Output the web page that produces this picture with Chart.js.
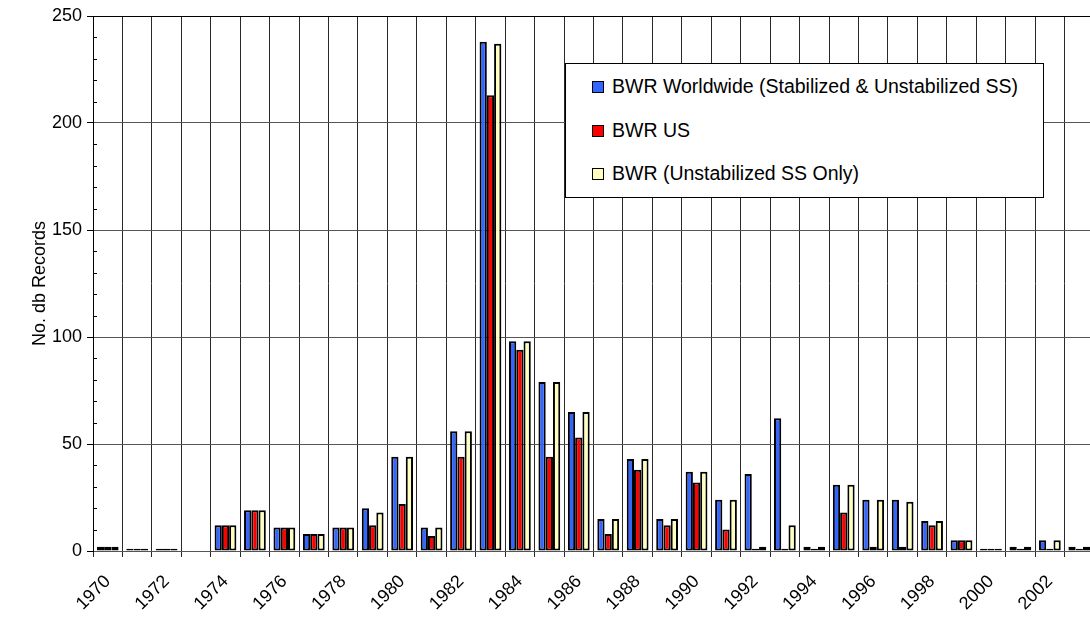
<!DOCTYPE html>
<html>
<head>
<meta charset="utf-8">
<script src="https://cdn.jsdelivr.net/npm/chart.js@4"></script>
<style>
  html, body { margin: 0; padding: 0; background: #fff; overflow: hidden; }
  #wrap { position: relative; width: 1094px; height: 618px; }
  #legend {
    position: absolute; left: 565px; top: 63px; width: 477px; height: 133px;
    border: 1px solid #000; background: #fff;
    font-family: "Liberation Sans", Arial, sans-serif; font-size: 19.5px; color: #000;
  }
  #legend .item { position: absolute; left: 26px; height: 22px; line-height: 22px; white-space: nowrap; }
  #legend .box { display: inline-block; width: 10px; height: 10px; border: 1px solid #000; vertical-align: 0px; margin-right: 8px; }
</style>
</head>
<body>
<div id="wrap">
  <canvas id="chart"></canvas>
  <div id="legend"></div>
</div>
<script>
const years = [];
for (let y = 1970; y <= 2003; y++) years.push(String(y));

const worldwide = [2, 1, 1, 0, 12, 19, 11, 8, 11, 20, 44, 11, 56, 238, 98, 79, 65, 15, 43, 15, 37, 24, 36, 62, 2, 31, 24, 24, 14, 5, 1, 2, 5, 2];
const usOnly    = [2, 1, 1, 0, 12, 19, 11, 8, 11, 12, 22, 7, 44, 213, 94, 44, 53, 8, 38, 12, 32, 10, 1, 1, 1, 18, 2, 2, 12, 5, 1, 1, 1, 1];
const unstab    = [2, 1, 1, 0, 12, 19, 11, 8, 11, 18, 44, 11, 56, 237, 98, 79, 65, 15, 43, 15, 37, 24, 2, 12, 2, 31, 24, 23, 14, 5, 1, 2, 5, 2];

const seriesNames = [
  'BWR Worldwide (Stabilized & Unstabilized SS)',
  'BWR US',
  'BWR (Unstabilized SS Only)'
];
const seriesColors = ['#3366ff', '#ff0000', '#ffffc0'];
const yTicks = [0, 50, 100, 150, 200, 250];

const FONT = '"Liberation Sans", Arial, sans-serif';

// legend box inside the plot, like the original
const legend = document.getElementById('legend');
seriesNames.forEach((name, i) => {
  const div = document.createElement('div');
  div.className = 'item';
  div.style.top = (11 + i * 43.5) + 'px';
  div.innerHTML = '<span class="box" style="background:' + seriesColors[i] + '"></span>';
  div.appendChild(document.createTextNode(name));
  legend.appendChild(div);
});

// small inner ticks every 10 on the value axis
const minorTicks = {
  id: 'minorTicks',
  afterDraw(chart) {
    const ctx = chart.ctx;
    const y = chart.scales.y;
    ctx.save();
    ctx.strokeStyle = '#000';
    ctx.lineWidth = 1;
    for (let v = 10; v < 250; v += 10) {
      if (yTicks.includes(v)) continue;
      const py = Math.round(y.getPixelForValue(v)) + 0.5;
      ctx.beginPath();
      ctx.moveTo(y.right, py);
      ctx.lineTo(y.right + 4, py);
      ctx.stroke();
    }
    ctx.restore();
  }
};

const data = [worldwide, usOnly, unstab];

new Chart(document.getElementById('chart'), {
  type: 'bar',
  data: {
    labels: years,
    datasets: data.map((d, i) => ({
      label: seriesNames[i],
      data: d,
      backgroundColor: seriesColors[i],
      borderColor: '#000',
      borderWidth: 2,
      borderSkipped: false,
      barPercentage: 1,
      categoryPercentage: 0.74
    }))
  },
  options: {
    responsive: true,
    maintainAspectRatio: false,
    animation: false,
    devicePixelRatio: 1,
    layout: { padding: { top: 16, left: 0, right: 0, bottom: 0 } },
    plugins: { legend: { display: false }, tooltip: { enabled: false } },
    scales: {
      x: {
        grid: { color: '#2a2a2a', lineWidth: 1, offset: true, tickLength: 6 },
        border: { color: '#555' },
        ticks: {
          autoSkip: false,
          minRotation: 45,
          maxRotation: 45,
          padding: 14,
          color: '#000',
          font: { family: FONT, size: 18 },
          callback: function (val, idx) { return idx % 2 === 0 ? years[idx] : ''; }
        },
        afterFit(scale) {
          scale.height = 67;
          scale.paddingLeft = 0;
          scale.paddingRight = 0;
        }
      },
      y: {
        min: 0,
        max: 250,
        grid: {
          color: ctx => ctx.tick.value === 250 ? '#000' : (ctx.tick.value % 50 === 0 ? '#555' : 'rgba(0,0,0,0)'),
          tickColor: ctx => ctx.tick.value % 50 === 0 ? '#000' : 'rgba(0,0,0,0)',
          tickLength: 6
        },
        border: { color: '#000' },
        ticks: {
          stepSize: 10,
          maxTicksLimit: 40,
          autoSkip: false,
          padding: 5,
          color: '#000',
          font: { family: FONT, size: 18 },
          callback: v => (v % 50 === 0 ? v : '')
        },
        title: {
          display: true,
          text: 'No. db Records',
          color: '#000',
          font: { family: FONT, size: 18 },
          padding: { top: 29, bottom: 0 }
        },
        afterFit(scale) { scale.width = 93; }
      }
    }
  },
  plugins: [minorTicks]
});
</script>
</body>
</html>
